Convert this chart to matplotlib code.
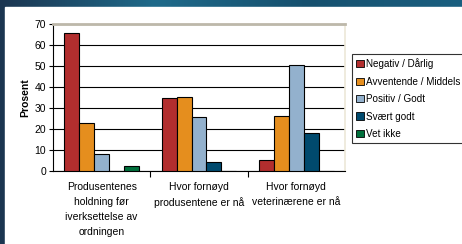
import numpy as np
import matplotlib
matplotlib.use('Agg')
import matplotlib.pyplot as plt
from matplotlib.patches import Rectangle
from matplotlib.colors import LinearSegmentedColormap

plt.rcParams['font.family'] = ['Liberation Sans', 'DejaVu Sans']

kategorier = ['Produsentenes\nholdning før\niverksettelse av\nordningen',
              'Hvor fornøyd\nprodusentene er nå',
              'Hvor fornøyd\nveterinærene er nå']
serier = ['Negativ / Dårlig', 'Avventende / Middels', 'Positiv / Godt', 'Svært godt', 'Vet ikke']
verdier = [
    [65.5, 34.8, 5.3],
    [23.0, 35.3, 26.2],
    [8.0, 25.7, 50.5],
    [0.0, 4.3, 18.1],
    [2.5, 0.0, 0.0],
]
farger = ['#B22E2E', '#E58E1E', '#93B1CD', '#004A6E', '#00703C']

W, H = 462, 244
fig = plt.figure(figsize=(W / 100, H / 100), dpi=100)

# bakgrunn: blå gradient med hvitt panel
bg = fig.add_axes([0, 0, 1, 1], zorder=-10)
grad = np.linspace(0, 1, 256).reshape(1, -1)
cm = LinearSegmentedColormap.from_list('bg', ['#1b3550', '#1f6a8a', '#16506e', '#1a5f80'])
bg.imshow(grad, aspect='auto', cmap=cm, extent=[0, 1, 0, 1])
bg.add_patch(Rectangle((5 / W, 0), 1, 1 - 7 / H, color='white', transform=bg.transAxes))
bg.set_xlim(0, 1)
bg.set_ylim(0, 1)
bg.axis('off')

x0, x1 = 53, 345
y0, y1 = 171, 24
ax = fig.add_axes([x0 / W, 1 - y0 / H, (x1 - x0) / W, (y0 - y1) / H])

n = len(serier)
bw = 0.154
x = np.arange(len(kategorier))
for i, (navn, v) in enumerate(zip(serier, verdier)):
    pos = x + (i - (n - 1) / 2) * bw
    ax.bar(pos, v, width=bw, color=farger[i], edgecolor='black', linewidth=0.8,
           label=navn, zorder=3)

ax.set_xlim(-0.5, 2.5)
ax.set_ylim(0, 70)
ax.set_yticks(range(0, 71, 10))
ax.yaxis.grid(True, color='black', linewidth=0.8, zorder=0)
ax.set_axisbelow(True)

ax.set_xticks([0.5, 1.5], minor=False)
ax.set_xticklabels([])
ax.set_xticks(x, minor=True)
ax.set_xticklabels(kategorier, minor=True, fontsize=7.5, linespacing=1.6)
ax.tick_params(axis='x', which='minor', length=0, pad=8)
ax.tick_params(axis='x', which='major', length=4, width=0.8, direction='out')
ax.tick_params(axis='y', length=3, width=0.8, direction='out', labelsize=7.5, pad=2)

ax.spines['top'].set_color('#bdb8aa')
ax.spines['top'].set_linewidth(2)
ax.spines['right'].set_color('#ece8d8')
ax.spines['right'].set_linewidth(1.2)
ax.spines['left'].set_linewidth(0.8)
ax.spines['bottom'].set_linewidth(0.8)

ax.set_ylabel('Prosent', fontsize=7.5, fontweight='bold', labelpad=3)

leg = fig.legend(loc='upper left', bbox_to_anchor=(352 / W, 1 - 54 / H),
                 fontsize=7.1, frameon=True, fancybox=False, edgecolor='black',
                 handlelength=0.75, handleheight=0.75, handletextpad=0.25,
                 labelspacing=0.75, borderpad=0.45, borderaxespad=0)
leg.get_frame().set_linewidth(0.8)
for h in leg.legend_handles:
    h.set_linewidth(0.6)

fig.savefig('out.png', dpi=100)
